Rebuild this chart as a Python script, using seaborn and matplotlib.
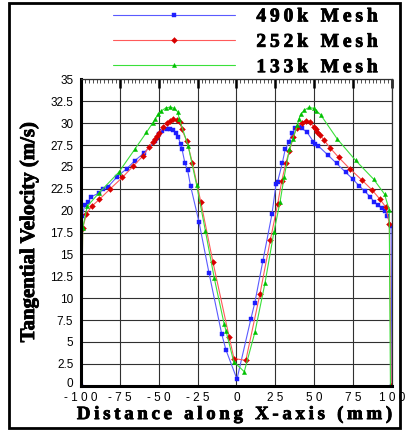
import matplotlib
matplotlib.use("Agg")
import matplotlib.pyplot as plt
import matplotlib.patheffects as pe
from matplotlib.ticker import MultipleLocator
from matplotlib.patches import Rectangle
from matplotlib.transforms import ScaledTranslation
from matplotlib.font_manager import FontProperties
import seaborn as sns

# tangential velocity along x-axis
mesh_490k_x = [-100, -99.3, -97.6, -95.5, -93.4, -88.6, -85.8, -82.8, -76.7, -70.6,
               -65.5, -59.5, -52.2, -50.9, -49.8, -48.1, -44.9, -42.8, -40.6, -39.1,
               -37.4, -36.0, -35.0, -33.1, -31.4, -29.5, -24.1, -17.7, -9.5, -6.8,
               0.3, 9.2, 11.8, 17.0, 22.8, 25.4, 26.4, 29.4, 31.3, 33.9,
               35.8, 37.8, 40.5, 42.0, 45.3, 49.4, 50.7, 52.6, 58.6, 64.4,
               70.2, 74.9, 78.8, 82.6, 85.9, 88.6, 91.2, 93.4, 95.5, 97.0,
               99.4, 100]
mesh_490k_y = [0, 19.4, 20.6, 21.0, 21.6, 22.0, 22.5, 22.7, 23.9, 24.8,
               25.7, 26.6, 28.0, 28.3, 28.8, 29.1, 29.3, 29.3, 29.2, 28.9,
               28.4, 27.6, 27.0, 25.4, 24.6, 22.8, 18.7, 12.9, 5.9, 4.1,
               0.75, 7.6, 9.5, 14.3, 19.6, 23.0, 23.3, 25.4, 27.0, 27.9,
               28.9, 29.4, 29.55, 29.4, 29.0, 27.9, 27.65, 27.4, 26.4, 25.4,
               24.4, 23.6, 22.85, 22.2, 21.6, 21.0, 20.6, 20.3, 19.95, 19.45,
               18.2, 0]

mesh_252k_x = [-100, -98.9, -96.5, -93.1, -88.2, -81.2, -73.4, -66.4, -59.9, -56.3,
               -53.9, -52.4, -50.9, -49.6, -47.1, -44.9, -42.8, -40.6, -38.5, -36.3,
               -35.2, -32.0, -28.4, -23.0, -15.1, -4.7, -1.6, 6.0, 15.1, 21.7,
               26.5, 29.1, 31.8, 34.0, 36.6, 38.7, 41.9, 44.9, 47.5, 49.6,
               50.9, 52.0, 53.7, 56.1, 60.1, 65.7, 72.8, 80.7, 87.3, 92.3,
               96.1, 98.3, 99.5]
mesh_252k_y = [0, 18.0, 19.65, 20.5, 21.3, 22.5, 23.8, 25.1, 26.3, 27.3,
               27.9, 28.2, 28.5, 28.9, 29.6, 30.0, 30.3, 30.5, 30.4, 30.1,
               29.3, 28.0, 25.5, 21.05, 14.1, 5.55, 3.1, 2.9, 10.5, 16.6,
               20.8, 23.4, 25.5, 26.85, 28.4, 29.5, 30.05, 30.3, 30.1, 29.6,
               29.3, 29.0, 28.7, 28.1, 27.2, 26.1, 24.8, 23.5, 22.35, 21.3,
               20.4, 18.5, 0]

mesh_133k_x = [-100, -98.9, -96.0, -88.6, -75.7, -65.5, -57.9, -54.0, -52.2, -50.5,
               -48.4, -45.5, -42.5, -40.0, -37.8, -36.8, -31.0, -25.6, -20.0, -14.3,
               -8.0, -6.8, -1.8, 5.0, 11.9, 18.3, 24.1, 28.0, 30.7, 34.0,
               36.1, 39.1, 40.2, 41.2, 43.6, 46.5, 49.8, 51.3, 54.1, 64.8,
               76.6, 88.2, 95.2, 98.2, 99.0]
mesh_133k_y = [0, 18.0, 20.5, 22.0, 24.4, 27.0, 28.95, 30.0, 30.5, 31.0,
               31.4, 31.75, 31.85, 31.7, 31.3, 30.5, 27.35, 22.9, 17.7, 12.3,
               7.1, 6.3, 2.75, 1.6, 6.15, 11.7, 17.6, 21.0, 23.9, 27.0,
               28.2, 29.75, 30.5, 31.0, 31.5, 31.8, 31.7, 31.45, 30.97, 28.2,
               25.75, 23.6, 21.9, 20.1, 0]

series_labels = ["490k Mesh", "252k Mesh", "133k Mesh"]
x_ticks = list(range(-100, 101, 25))
y_ticks = [i * 2.5 for i in range(15)]


def spaced(s, sep="\u2009"):
    # Tecplot-style letter spacing
    return sep.join(s)


sns.set_style("white")
plt.rcParams['font.family'] = ['Liberation Sans', 'DejaVu Sans']
plt.rcParams['text.color'] = 'black'
plt.rcParams['axes.labelcolor'] = 'black'
serif = ['Liberation Serif', 'DejaVu Serif']
heavy = [pe.withStroke(linewidth=0.6, foreground='black')]

fig = plt.figure(figsize=(4.06, 4.32), dpi=100)
ax = fig.add_axes([0.1995, 0.1072, 0.766, 0.7088])

styles = [
    (mesh_490k_x, mesh_490k_y, '#5a5aff', '#1e1eff', 's', 3.0),
    (mesh_252k_x, mesh_252k_y, '#ff5a5a', '#d80000', 'D', 3.0),
    (mesh_133k_x, mesh_133k_y, '#3ae03a', '#00c000', '^', 3.0),
]
for (xs, ys, lc, mc, mk, ms), lab in zip(styles, series_labels):
    sns.lineplot(x=xs, y=ys, ax=ax, sort=False, estimator=None, color=lc,
                 linewidth=0.8, marker=mk, markersize=ms, markerfacecolor=mc,
                 markeredgecolor=mc, markeredgewidth=0.3, label=spaced(lab))

ax.set_xlim(-100, 100)
ax.set_ylim(0, 35)
ax.set_xticks(x_ticks)
ax.set_xticklabels([" ".join(str(v)) for v in x_ticks])
ax.set_yticks(y_ticks)
ax.set_yticklabels([f"{v:g}" for v in y_ticks])
ax.xaxis.set_minor_locator(MultipleLocator(2.5))
ax.yaxis.set_minor_locator(MultipleLocator(0.5))

ax.grid(True, which='major', color='#303030', linewidth=0.8)
ax.set_axisbelow(True)

ax.tick_params(which='major', direction='in', length=6.5, width=1.8, color='black',
               top=True, right=False, labelsize=8.5, labelcolor='black')
ax.tick_params(which='minor', direction='in', length=3, width=0.6, color='#333333',
               top=True, right=False)
ax.tick_params(axis='x', which='major', pad=4.5)
ax.tick_params(axis='y', which='major', pad=5.5)

# nudge the "0" label up a little so it clears "-100"
zero_lab = ax.get_yticklabels()[0]
zero_lab.set_transform(zero_lab.get_transform() + ScaledTranslation(0, 2.5 / 72, fig.dpi_scale_trans))

for side in ['left', 'bottom']:
    ax.spines[side].set_linewidth(2.2)
    ax.spines[side].set_color('black')
for side in ['top', 'right']:
    ax.spines[side].set_linewidth(0.9)
    ax.spines[side].set_color('#303030')

xl = ax.set_xlabel(spaced("Distance along X-axis (mm)"), family=serif, weight='bold',
                   fontsize=13.5, va='center')
xl.set_path_effects(heavy)
ax.xaxis.set_label_coords(0.494, -0.094)
yl = ax.set_ylabel("Tangential Velocity (m/s)", family=serif, weight='bold',
                   fontsize=15, va='center')
yl.set_path_effects(heavy)
ax.yaxis.set_label_coords(-0.167, 0.502)

leg = ax.legend(loc='upper left', bbox_to_anchor=(0.278, 0.982), bbox_transform=fig.transFigure,
                frameon=False, handlelength=6.3, handletextpad=1.08, labelspacing=0.4,
                borderpad=0, borderaxespad=0, numpoints=1,
                prop=FontProperties(family=serif, weight='bold', size=14))
for t in leg.get_texts():
    t.set_color('black')
    t.set_path_effects(heavy)

# outer frame
fig.add_artist(Rectangle((9 / 406, 1 - 428 / 432), 391 / 406, 425 / 432,
                         transform=fig.transFigure, fill=False, lw=2, ec='black'))

fig.savefig("out.png", dpi=100)
